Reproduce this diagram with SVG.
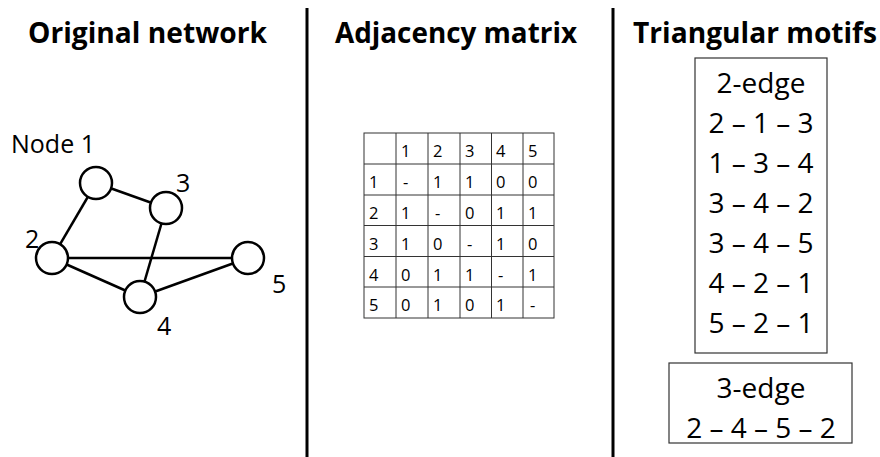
<svg xmlns="http://www.w3.org/2000/svg" width="880" height="457" viewBox="0 0 880 457">
  <style>
    .title { font-family: "Open Sans", "Noto Sans", sans-serif; font-weight: bold; font-size: 28px; fill: #000; }
    .lbl { font-family: "Open Sans", "Noto Sans", sans-serif; font-size: 25px; fill: #000; }
    .big { font-family: "Open Sans", "Noto Sans", sans-serif; font-size: 28px; fill: #000; text-anchor: middle; }
    .cell { font-family: "Open Sans", "Noto Sans", sans-serif; font-size: 16.5px; fill: #000; }
    .divider { stroke: #000; stroke-width: 3; }
    .edge { stroke: #000; stroke-width: 2.5; fill: none; }
    .node { fill: #fff; stroke: #000; stroke-width: 2.5; }
    .grid { stroke: #333; stroke-width: 1; fill: none; }
    .box { fill: #fff; stroke: #333; stroke-width: 1.2; }
  </style>

  <rect width="880" height="457" fill="#fff"/>

  <!-- column dividers -->
  <line class="divider" x1="307" y1="8" x2="307" y2="457"/>
  <line class="divider" x1="613" y1="8" x2="613" y2="457"/>

  <!-- column headings -->
  <text class="title" x="28" y="43" textLength="239" lengthAdjust="spacingAndGlyphs">Original network</text>
  <text class="title" x="335" y="43" textLength="242" lengthAdjust="spacingAndGlyphs">Adjacency matrix</text>
  <text class="title" x="633" y="43" textLength="244" lengthAdjust="spacingAndGlyphs">Triangular motifs</text>

  <!-- network edges -->
  <g id="connectors">
    <line class="edge" x1="96" y1="183" x2="52" y2="258"/>
    <line class="edge" x1="96" y1="183" x2="166" y2="208"/>
    <line class="edge" x1="166" y1="208" x2="140" y2="297"/>
    <line class="edge" x1="52" y1="258" x2="248" y2="258"/>
    <line class="edge" x1="52" y1="258" x2="140" y2="297"/>
    <line class="edge" x1="140" y1="297" x2="248" y2="258"/>
  </g>

  <!-- network nodes -->
  <g id="node1">
    <circle class="node" cx="96" cy="183" r="16"/>
    <text class="lbl" x="11" y="153">Node 1</text>
  </g>
  <g id="node2">
    <circle class="node" cx="52" cy="258" r="16"/>
    <text class="lbl" x="25" y="248">2</text>
  </g>
  <g id="node3">
    <circle class="node" cx="166" cy="208" r="16"/>
    <text class="lbl" x="176" y="192">3</text>
  </g>
  <g id="node4">
    <circle class="node" cx="140" cy="297" r="16"/>
    <text class="lbl" x="157" y="335">4</text>
  </g>
  <g id="node5">
    <circle class="node" cx="248" cy="258" r="16"/>
    <text class="lbl" x="272" y="293">5</text>
  </g>

  <!-- adjacency matrix -->
  <g id="matrix">
    <rect class="grid" x="364" y="133" width="190" height="185"/>
    <line class="grid" x1="396" y1="133" x2="396" y2="318"/>
    <line class="grid" x1="428" y1="133" x2="428" y2="318"/>
    <line class="grid" x1="460" y1="133" x2="460" y2="318"/>
    <line class="grid" x1="491.5" y1="133" x2="491.5" y2="318"/>
    <line class="grid" x1="523" y1="133" x2="523" y2="318"/>
    <line class="grid" x1="364" y1="164" x2="554" y2="164"/>
    <line class="grid" x1="364" y1="195" x2="554" y2="195"/>
    <line class="grid" x1="364" y1="225.5" x2="554" y2="225.5"/>
    <line class="grid" x1="364" y1="256.5" x2="554" y2="256.5"/>
    <line class="grid" x1="364" y1="287" x2="554" y2="287"/>

    <g class="cell">
      <text x="401" y="157">1</text><text x="433" y="157">2</text><text x="465" y="157">3</text><text x="496" y="157">4</text><text x="528" y="157">5</text>

      <text x="369" y="188">1</text><text x="403" y="188">-</text><text x="433" y="188">1</text><text x="465" y="188">1</text><text x="496" y="188">0</text><text x="528" y="188">0</text>

      <text x="369" y="219">2</text><text x="401" y="219">1</text><text x="435" y="219">-</text><text x="465" y="219">0</text><text x="496" y="219">1</text><text x="528" y="219">1</text>

      <text x="369" y="249.5">3</text><text x="401" y="249.5">1</text><text x="433" y="249.5">0</text><text x="467" y="249.5">-</text><text x="496" y="249.5">1</text><text x="528" y="249.5">0</text>

      <text x="369" y="280.5">4</text><text x="401" y="280.5">0</text><text x="433" y="280.5">1</text><text x="465" y="280.5">1</text><text x="498" y="280.5">-</text><text x="528" y="280.5">1</text>

      <text x="369" y="311">5</text><text x="401" y="311">0</text><text x="433" y="311">1</text><text x="465" y="311">0</text><text x="496" y="311">1</text><text x="530" y="311">-</text>
    </g>
  </g>

  <!-- motif lists -->
  <g id="two-edge">
    <rect class="box" x="695" y="58" width="132" height="295"/>
    <text class="big" x="761" y="93">2-edge</text>
    <text class="big" x="761" y="133">2 – 1 – 3</text>
    <text class="big" x="761" y="173">1 – 3 – 4</text>
    <text class="big" x="761" y="213">3 – 4 – 2</text>
    <text class="big" x="761" y="253">3 – 4 – 5</text>
    <text class="big" x="761" y="293">4 – 2 – 1</text>
    <text class="big" x="761" y="333">5 – 2 – 1</text>
  </g>
  <g id="three-edge">
    <rect class="box" x="669" y="363" width="183" height="80"/>
    <text class="big" x="761" y="398">3-edge</text>
    <text class="big" x="761" y="438">2 – 4 – 5 – 2</text>
  </g>
</svg>
